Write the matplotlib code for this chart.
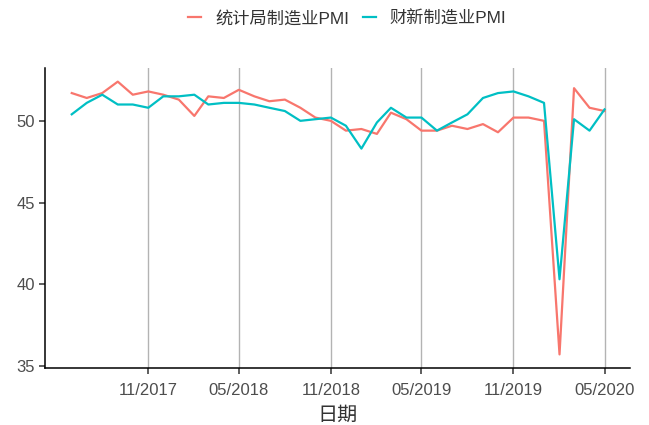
import numpy as np
import pandas as pd
import matplotlib
matplotlib.use("Agg")
from matplotlib import pyplot as plt
import matplotlib.dates as mdates

plt.rcParams['font.family'] = ['Liberation Sans', 'Noto Sans CJK SC', 'DejaVu Sans']

months = pd.date_range("2017-06-01", "2020-05-01", freq="MS")

nbs_pmi = [51.7, 51.4, 51.7, 52.4, 51.6, 51.8, 51.6,
           51.3, 50.3, 51.5, 51.4, 51.9, 51.5, 51.2, 51.3, 50.8, 50.2, 50.0, 49.4,
           49.5, 49.2, 50.5, 50.1, 49.4, 49.4, 49.7, 49.5, 49.8, 49.3, 50.2, 50.2,
           50.0, 35.7, 52.0, 50.8, 50.6]
caixin_pmi = [50.4, 51.1, 51.6, 51.0, 51.0, 50.8, 51.5,
              51.5, 51.6, 51.0, 51.1, 51.1, 51.0, 50.8, 50.6, 50.0, 50.1, 50.2, 49.7,
              48.3, 49.9, 50.8, 50.2, 50.2, 49.4, 49.9, 50.4, 51.4, 51.7, 51.8, 51.5,
              51.1, 40.3, 50.1, 49.4, 50.7]
series_names = ["统计局制造业PMI", "财新制造业PMI"]
tick_dates = pd.to_datetime(["2017-11-01", "2018-05-01", "2018-11-01",
                             "2019-05-01", "2019-11-01", "2020-05-01"])
y_ticks = [35, 40, 45, 50]

fig = plt.figure(figsize=(6.49, 4.25), dpi=100)
ax = fig.add_axes([0.0695, 0.134, 0.901, 0.706])

ax.plot(months, nbs_pmi, color="#F8766D", lw=1.6, label=series_names[0])
ax.plot(months, caixin_pmi, color="#00BFC4", lw=1.6, label=series_names[1])

# ggplot-style 5% expansion
x0, x1 = mdates.date2num(months[0]), mdates.date2num(months[-1])
pad = (x1 - x0) * 0.05
ax.set_xlim(x0 - pad, x1 + pad * 0.95)
allv = np.array(nbs_pmi + caixin_pmi)
ypad = (allv.max() - allv.min()) * 0.05
ax.set_ylim(allv.min() - ypad, allv.max() + ypad)

ax.set_xticks(tick_dates)
ax.xaxis.set_major_formatter(mdates.DateFormatter("%m/%Y"))
ax.set_yticks(y_ticks)
ax.grid(axis="x", color="#b3b3b3", lw=1.0)
ax.set_axisbelow(True)

for s in ["top", "right"]:
    ax.spines[s].set_visible(False)
for s in ["left", "bottom"]:
    ax.spines[s].set_color("black")
    ax.spines[s].set_linewidth(1.1)
ax.tick_params(axis="both", colors="#333333", labelcolor="#4d4d4d",
               labelsize=12, length=4.5, width=1.1)
ax.tick_params(axis="x", pad=6)
ax.tick_params(axis="y", pad=3)

ax.set_xlabel("日期", fontsize=14.5, color="#333333", labelpad=6)

fig.legend(loc="center", bbox_to_anchor=(0.535, 0.957), ncol=2, frameon=False,
           fontsize=12.4, handlelength=0.75, columnspacing=0.8, handletextpad=0.8,
           labelcolor="#333333")

fig.savefig("out.png", dpi=100)
